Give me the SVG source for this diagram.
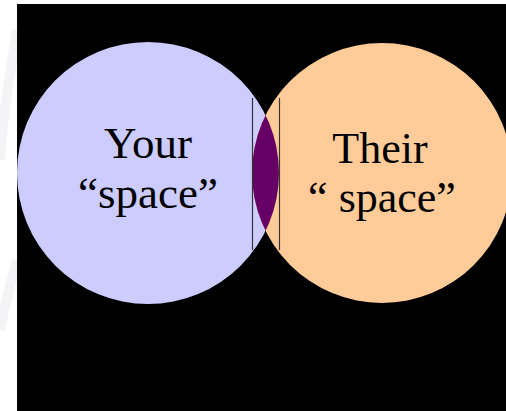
<svg xmlns="http://www.w3.org/2000/svg" width="506" height="411" viewBox="0 0 506 411">
<defs>
<style>
.t{font-family:"Liberation Serif","Times New Roman",serif;font-size:45px;fill:#000;text-anchor:middle}
.ln{stroke:#333;stroke-width:1.2;fill:none}
</style>
<clipPath id="c1"><circle cx="148" cy="173" r="131"/></clipPath>
</defs>
<rect x="0" y="0" width="506" height="411" fill="#fff"/>
<path d="M17 30 Q2 120 0 160" stroke="#f4f4f6" stroke-width="10" fill="none"/>
<path d="M17 260 Q6 300 0 330" stroke="#f4f4f6" stroke-width="10" fill="none"/>
<rect x="17" y="4" width="489" height="407" fill="#000"/>
<g id="your-space">
<circle cx="148" cy="173" r="131" fill="#ccccff"/>
<text class="t" x="148" y="158">Your</text>
<text class="t" x="148" y="208">“space”</text>
</g>
<g id="their-space">
<circle cx="382" cy="173" r="130" fill="#ffcc99"/>
<text class="t" x="380" y="163" style="font-size:44px">Their</text>
<text class="t" x="382" y="212" style="font-size:44px">“ space”</text>
</g>
<g id="overlap">
<circle cx="382" cy="173" r="130" fill="#660066" clip-path="url(#c1)"/>
</g>
<g id="connectors">
<line class="ln" x1="252.5" y1="98" x2="252.5" y2="250"/>
<line class="ln" x1="279.5" y1="98" x2="279.5" y2="250"/>
</g>
</svg>
